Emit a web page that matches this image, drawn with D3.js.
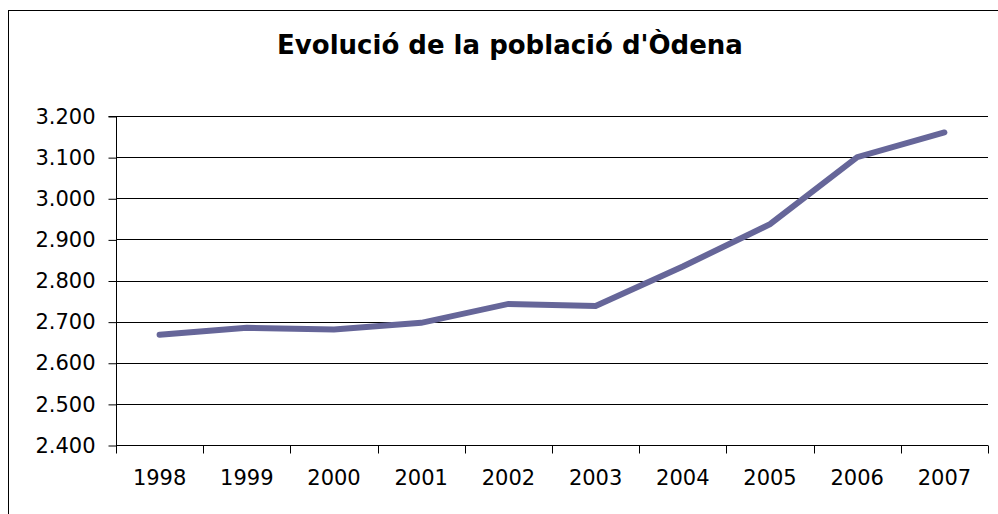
<!DOCTYPE html>
<html><head><meta charset="utf-8">
<script src="https://cdn.jsdelivr.net/npm/d3@7"></script>
<style>body{margin:0;background:#fff}svg{display:block}</style>
</head><body>
<script>
const years = ["1998","1999","2000","2001","2002","2003","2004","2005","2006","2007"];
const population = [2668, 2685, 2681, 2697, 2743, 2738, 2834, 2937, 3100, 3160];
const yTicks = [2400, 2500, 2600, 2700, 2800, 2900, 3000, 3100, 3200];
const title = "Evolució de la població d'Òdena";

const W = 998, H = 514;
const svg = d3.select("body").append("svg").attr("width", W).attr("height", H);
svg.append("rect").attr("x", 8.5).attr("y", 10.5).attr("width", 1000).attr("height", 600)
  .attr("fill", "#fff").attr("stroke", "#000").attr("stroke-width", 1);

const m = {left: 116, right: 988, top: 116, bottom: 445};
const x = d3.scaleBand().domain(years).range([m.left, m.right]).padding(0);
const y = d3.scaleLinear().domain([2400, 3200]).range([m.bottom, m.top]);
const font = "'DejaVu Sans', Verdana, sans-serif";

svg.append("text").attr("x", 510).attr("y", 54).attr("text-anchor", "middle")
  .attr("font-family", font).attr("font-weight", "bold").attr("font-size", 26)
  .text(title);

// gridlines
svg.append("g").selectAll("line").data(yTicks.filter(d => d > 2400)).join("line")
  .attr("x1", m.left).attr("x2", m.right)
  .attr("y1", d => Math.round(y(d)) + 0.5).attr("y2", d => Math.round(y(d)) + 0.5)
  .attr("stroke", "#000").attr("stroke-width", 1);

// y axis
const yAxis = d3.axisLeft(y).tickValues(yTicks).tickSize(8).tickPadding(13)
  .tickFormat(d => d3.format(",")(d).replace(",", "."));
const gy = svg.append("g").attr("transform", `translate(${m.left + 0.5},0.5)`).call(yAxis);
gy.select(".domain").attr("d", `M-8,${y(3200)}H0V${y(2400)}`).attr("stroke", "#000");
gy.selectAll("text").attr("font-family", font).attr("font-size", 21).attr("fill", "#000");
gy.selectAll(".tick line").attr("stroke", "#000");

// x axis
const xAxis = d3.axisBottom(x).tickSize(0).tickPadding(25);
const gx = svg.append("g").attr("transform", `translate(0,${Math.round(m.bottom) + 0.5})`).call(xAxis);
gx.select(".domain").attr("d", `M${m.left},0H${m.right}`).attr("stroke", "#000");
gx.selectAll("text").attr("font-family", font).attr("font-size", 21).attr("fill", "#000");
gx.selectAll(".tick line").remove();
const bounds = years.map(d => x(d)).concat([x(years[years.length - 1]) + x.bandwidth()]);
gx.append("g").selectAll("line").data(bounds).join("line")
  .attr("x1", d => Math.round(d) + 0.5).attr("x2", d => Math.round(d) + 0.5)
  .attr("y1", 0).attr("y2", 8).attr("stroke", "#000");

// line
const line = d3.line().x((d, i) => x(years[i]) + x.bandwidth() / 2).y(d => y(d));
svg.append("path").datum(population).attr("d", line)
  .attr("fill", "none").attr("stroke", "#666699").attr("stroke-width", 6)
  .attr("stroke-linecap", "round").attr("stroke-linejoin", "miter");
</script>
</body></html>
